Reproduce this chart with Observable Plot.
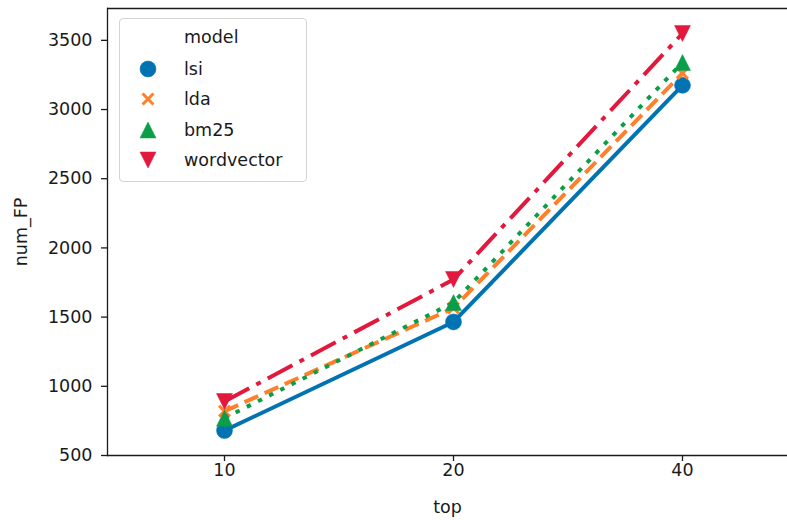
<!DOCTYPE html>
<html>
<head>
<meta charset="utf-8">
<script src="https://cdn.jsdelivr.net/npm/d3@7"></script>
<script src="https://cdn.jsdelivr.net/npm/@observablehq/plot@0.6"></script>
<style>
  html, body { margin: 0; padding: 0; background: #fff; }
  #wrap { position: relative; width: 787px; height: 520px; overflow: hidden; font-family: "DejaVu Sans", sans-serif; }
  #legend { position: absolute; left: 119px; top: 18px; width: 188px; height: 164px; box-sizing: border-box;
    border: 1px solid #d4d4d4; border-radius: 4px; background: rgba(255,255,255,0.8); color: #1a1a1a; font-size: 17.5px; }
  #legend .t { position: absolute; left: 64px; line-height: 20px; white-space: nowrap; }
  #legend svg { position: absolute; overflow: visible; }
</style>
</head>
<body>
<div id="wrap"></div>
<script>
// ---- data ----
const tops = ["10", "20", "40"];
const models = ["lsi", "lda", "bm25", "wordvector"];
const lsi = [680, 1465, 3175];
const lda = [820, 1565, 3262];
const bm25 = [770, 1605, 3340];
const wordvector = [890, 1772, 3550];
const yTicks = [500, 1000, 1500, 2000, 2500, 3000, 3500];
const yDomain = [500, 3730];
const colors = ["#0173b2", "#ff7f2a", "#0b9e48", "#e2183c"];
const dashes = [null, "15,7", "4.5,8", "28,8,5,8"];

// matplotlib-like markers (bbox-centred)
const symCircle = { draw(ctx, size) { const r = Math.sqrt(size / Math.PI); ctx.moveTo(r, 0); ctx.arc(0, 0, r, 0, 2 * Math.PI); } };
const symTimes = { draw(ctx, size) { const a = Math.sqrt(size / Math.PI) * 0.68; ctx.moveTo(-a, -a); ctx.lineTo(a, a); ctx.moveTo(-a, a); ctx.lineTo(a, -a); } };
const symUp = { draw(ctx, size) { const r = Math.sqrt(size / Math.PI); ctx.moveTo(0, -r); ctx.lineTo(r, r); ctx.lineTo(-r, r); ctx.closePath(); } };
const symDown = { draw(ctx, size) { const r = Math.sqrt(size / Math.PI); ctx.moveTo(0, r); ctx.lineTo(-r, -r); ctx.lineTo(r, -r); ctx.closePath(); } };
const symbols = [symCircle, symTimes, symUp, symDown];
const values = [lsi, lda, bm25, wordvector];
const R = 8;

const seriesMarks = [];
models.forEach((m, i) => {
  const data = tops.map((t, j) => ({ top: t, value: values[i][j], model: m }));
  seriesMarks.push(Plot.line(data, {
    x: "top", y: "value", stroke: colors[i], strokeWidth: 4,
    strokeDasharray: dashes[i] || undefined,
    strokeLinecap: dashes[i] ? "butt" : "square", strokeLinejoin: "round"
  }));
  const isTimes = symbols[i] === symTimes;
  seriesMarks.push(Plot.dot(data, {
    x: "top", y: "value", r: R, symbol: () => symbols[i],
    fill: isTimes ? "none" : colors[i],
    stroke: colors[i], strokeWidth: isTimes ? 3 : 0.5
  }));
});

const spine = { stroke: "#1a1a1a", strokeWidth: 1.3 };
const chart = Plot.plot({
  width: 787, height: 520,
  marginLeft: 107, marginRight: 0, marginTop: 8, marginBottom: 65,
  style: { fontFamily: "DejaVu Sans, sans-serif", fontSize: "17.5px", color: "#1a1a1a", background: "white", overflow: "visible" },
  x: { type: "point", domain: tops, range: [224, 682], padding: 0 },
  y: { domain: yDomain },
  symbol: { type: "identity" },
  marks: [
    Plot.axisY({ ticks: yTicks, tickFormat: d => String(d), tickSize: 6, tickPadding: 9, label: "num_FP", labelAnchor: "center", labelOffset: 93, labelArrow: false, strokeWidth: 1.3 }),
    Plot.axisX({ tickSize: 6, tickPadding: 2, label: "top", labelAnchor: "center", labelOffset: 57, labelArrow: false, strokeWidth: 1.3 }),
    Plot.frame({ anchor: "left", ...spine }),
    Plot.ruleY([yDomain[0]], spine),
    Plot.ruleY([yDomain[1]], spine),
    ...seriesMarks
  ]
});
document.getElementById("wrap").appendChild(chart);

// ---- legend ----
const legend = document.createElement("div");
legend.id = "legend";
const title = document.createElement("div");
title.className = "t"; title.textContent = "model"; title.style.top = (18 - 10) + "px";
legend.appendChild(title);
const rowY = [50, 80, 111, 141];
models.forEach((m, i) => {
  const svg = d3.create("svg").attr("width", 1).attr("height", 1)
    .style("left", "28px").style("top", rowY[i] + "px");
  const isTimes = symbols[i] === symTimes;
  svg.append("path")
    .attr("d", d3.symbol(symbols[i], Math.PI * R * R)())
    .attr("fill", isTimes ? "none" : colors[i])
    .attr("stroke", colors[i])
    .attr("stroke-width", isTimes ? 3 : 0.5);
  legend.appendChild(svg.node());
  const t = document.createElement("div");
  t.className = "t"; t.textContent = m; t.style.top = (rowY[i] - 10) + "px";
  legend.appendChild(t);
});
document.getElementById("wrap").appendChild(legend);
</script>
</body>
</html>
